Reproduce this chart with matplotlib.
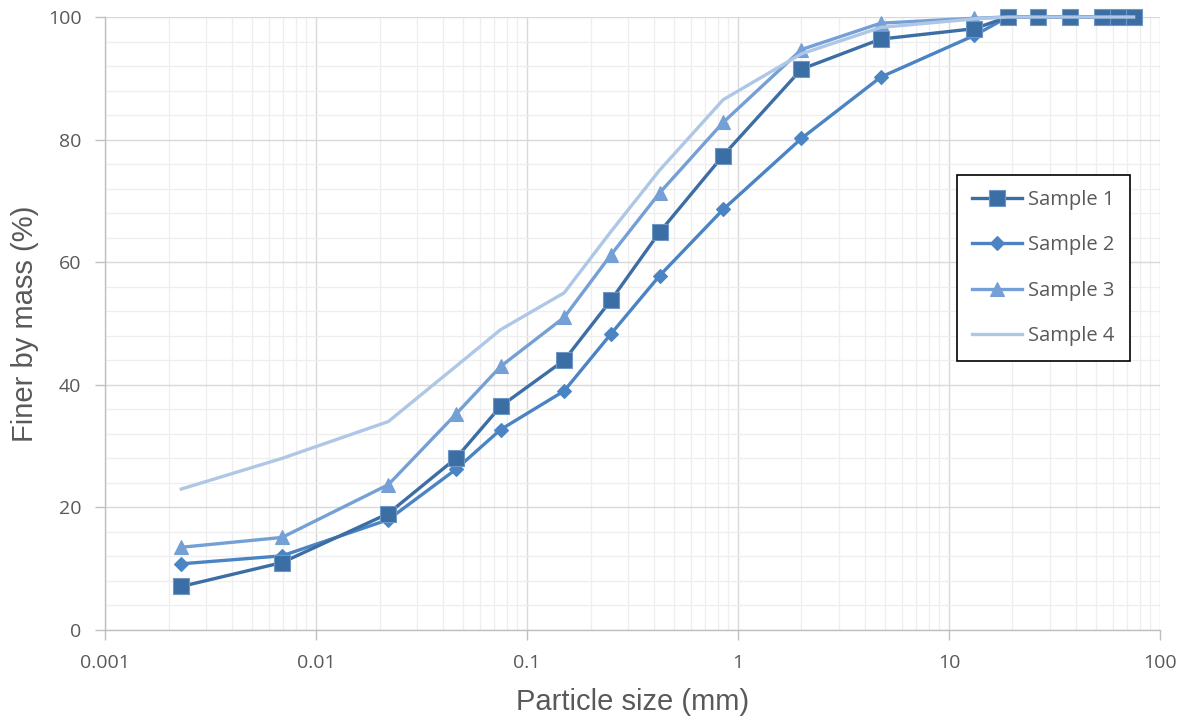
import matplotlib
matplotlib.use("Agg")
import matplotlib.pyplot as plt
from matplotlib.ticker import LogLocator, FixedLocator, FuncFormatter, NullFormatter

# particle sizes (mm) and percent finer for each sample
sizes = [0.0023, 0.0069, 0.022, 0.046, 0.075, 0.15, 0.25, 0.425, 0.85,
         2.0, 4.75, 13.2, 19, 26.5, 37.5, 53, 63, 75]
sample_1 = [7.1, 11.0, 19.0, 28.0, 36.5, 44.0, 53.8, 64.9, 77.4,
            91.5, 96.4, 98.1, 100, 100, 100, 100, 100, 100]
sample_2 = [10.8, 12.1, 18.0, 26.2, 32.7, 39.0, 48.3, 57.8, 68.6,
            80.2, 90.2, 97.0, 100, 100, 100, 100, 100, 100]
sample_3 = [13.5, 15.1, 23.7, 35.2, 43.0, 51.0, 61.2, 71.3, 82.8,
            94.7, 99.0, 99.8, 100, 100, 100, 100, 100, 100]
sample_4 = [23.0, 28.0, 34.0, 43.0, 49.0, 55.0, 65.0, 75.0, 86.5,
            94.0, 98.3, 99.7, 100, 100, 100, 100, 100, 100]
labels = ["Sample 1", "Sample 2", "Sample 3", "Sample 4"]

TEXT = "#595959"
plt.rcParams["font.family"] = ["Open Sans", "DejaVu Sans"]

fig = plt.figure(figsize=(11.88, 7.21), dpi=100)
ax = fig.add_axes([0.0884, 0.1262, 0.888, 0.8502])

# (values, colour, edge colour, marker, marker size, zorder)
series = [
    (sample_1, "#3B6EA5", "#6f97c4", "s", 11, 2.3),
    (sample_2, "#4A84C3", "#4A84C3", "D", 7.5, 2.2),
    (sample_3, "#74A0D6", "#74A0D6", "^", 10, 2.1),
    (sample_4, "#AEC7E6", "#AEC7E6", None, 0, 2.4),
]
for (vals, col, edge, mk, ms, z), lab in zip(series, labels):
    ax.plot(sizes, vals, color=col, lw=2.4, marker=mk, markersize=ms,
            markeredgecolor=edge, markeredgewidth=0.8, markerfacecolor=col,
            label=lab, clip_on=False, zorder=z)

ax.set_xscale("log")
ax.set_xlim(0.001, 100)
ax.set_ylim(0, 100)

ax.xaxis.set_major_locator(LogLocator(base=10, numticks=10))
ax.xaxis.set_minor_locator(LogLocator(base=10, subs=range(2, 10), numticks=20))
ax.xaxis.set_major_formatter(FuncFormatter(lambda v, p: f"{v:g}"))
ax.xaxis.set_minor_formatter(NullFormatter())
ax.yaxis.set_major_locator(FixedLocator(range(0, 101, 20)))
ax.yaxis.set_minor_locator(FixedLocator(range(0, 101, 4)))

ax.grid(which="major", color="#d9d9d9", lw=1.0)
ax.grid(which="minor", color="#eeeeee", lw=0.9)
ax.set_axisbelow(True)

for s in ("top", "right"):
    ax.spines[s].set_visible(False)
for s in ("left", "bottom"):
    ax.spines[s].set_color("#bfbfbf")
    ax.spines[s].set_linewidth(1.0)

ax.tick_params(which="major", length=7, width=1, color="#bfbfbf",
               labelcolor=TEXT, labelsize=14, pad=10)
ax.tick_params(which="minor", length=0)

ax.set_xlabel("Particle size (mm)", fontsize=21, color=TEXT,
              family=["Liberation Sans", "DejaVu Sans"], labelpad=12)
ax.set_ylabel("Finer by mass (%)", fontsize=21, color=TEXT,
              family=["Liberation Sans", "DejaVu Sans"], labelpad=6)

leg = ax.legend(loc="upper left", bbox_to_anchor=(0.8076, 0.742),
                fontsize=14.5, frameon=True, fancybox=False, framealpha=1,
                edgecolor="black", handlelength=2.5, labelspacing=1.25,
                borderpad=0.75, handletextpad=0.3, borderaxespad=0)
leg.get_frame().set_linewidth(1.2)
for t in leg.get_texts():
    t.set_color(TEXT)

fig.savefig("out.png", dpi=100, facecolor="white")
